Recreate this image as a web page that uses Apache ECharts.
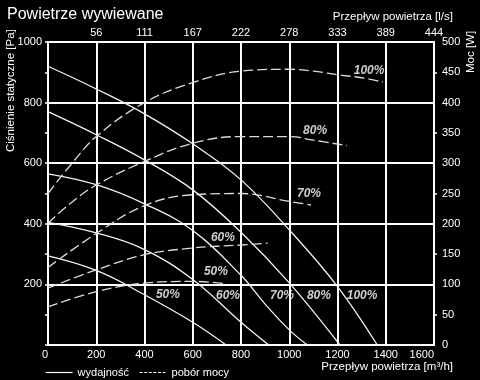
<!DOCTYPE html>
<html>
<head>
<meta charset="utf-8">
<script src="https://cdn.jsdelivr.net/npm/echarts@6/dist/echarts.min.js"></script>
<style>
html,body{margin:0;padding:0;background:#000;}
#chart{width:480px;height:380px;}
</style>
</head>
<body>
<div id="chart"></div>
<script>
// ---- data (flow m³/h, static pressure Pa) ----
const solid50  = [[0,294],[200,246],[400,166],[600,75],[738,0]];
const solid60  = [[0,405],[200,370],[400,315],[600,216],[800,75],[915,0]];
const solid70  = [[0,565],[200,529],[400,466],[600,378],[800,230],[900,135],[1000,50],[1075,0]];
const solid80  = [[0,770],[200,694],[400,611],[600,512],[800,372],[1000,205],[1210,0]];
const solid100 = [[0,920],[200,845],[400,763],[600,664],[800,545],[1000,380],[1200,193],[1365,0]];
// ---- data (flow m³/h, power W) ----
const power50  = [[0,63],[200,88],[400,102],[600,105],[738,101]];
const power60  = [[0,94],[200,124],[400,149],[600,160],[800,165],[910,168]];
const power70  = [[0,128],[200,184],[400,230],[600,248],[800,250],[1000,237],[1090,231]];
const power80  = [[0,201],[100,236],[200,264],[400,303],[600,333],[800,344],[1000,344],[1100,338],[1240,329]];
const power100 = [[0,250],[100,300],[200,344],[400,400],[600,433],[800,452],[1000,455],[1100,452],[1200,446],[1300,441],[1388,434]];
// ---- tick labels ----
const flowLsLabels = ['56','111','167','222','278','333','389','444'];
// ---- curve annotations ----
const labelTexts = ['50%','60%','70%','80%','100%','50%','60%','70%','80%','100%'];
const labelFlow  = [497,746,970,1123,1302,696,725,1082,1107,1331];
const labelPa    = [165,162,162,162,162,241,353,498,706,904];

const solidCurves = [solid50, solid60, solid70, solid80, solid100];
const powerCurves = [power50, power60, power70, power80, power100];

const FONT = '"Liberation Sans", Arial, sans-serif';
const chart = echarts.init(document.getElementById('chart'), null, {renderer:'canvas'});

const series = [];
solidCurves.forEach(d => series.push({
  name:'wydajność', type:'line', data:d, xAxisIndex:0, yAxisIndex:0,
  symbol:'none', smooth:0.4,
  lineStyle:{color:'#f2f2f2', width:1.3}, itemStyle:{color:'#f2f2f2'}
}));
powerCurves.forEach(d => series.push({
  name:'pobór mocy', type:'line', data:d, xAxisIndex:0, yAxisIndex:1,
  symbol:'none', smooth:0.4,
  lineStyle:{color:'#dcdcdc', width:1.3, type:[10,4]}, itemStyle:{color:'#dcdcdc'}
}));
series.push({
  type:'scatter', xAxisIndex:0, yAxisIndex:0, symbolSize:0, silent:true,
  data: labelTexts.map((t,i)=>({name:t, value:[labelFlow[i], labelPa[i]]})),
  label:{show:true, position:'inside', formatter:p=>p.name, color:'#fff',
    fontSize:12, fontWeight:'bold', fontStyle:'italic', fontFamily:FONT}
});

const axisFont = {color:'#fff', fontSize:11, fontFamily:FONT};
const plain = v => String(v);

chart.setOption({
  animation:false,
  backgroundColor:'#000',
  textStyle:{fontFamily:FONT},
  title:{text:'Powietrze wywiewane', left:2, top:2,
    textStyle:{color:'#fff', fontSize:16, fontWeight:'normal', fontFamily:FONT}},
  grid:{left:48, right:46, top:42, bottom:35, show:true, borderColor:'#fff', borderWidth:2},
  legend:{left:45, top:367, padding:0, itemWidth:27, itemHeight:10, itemGap:10,
    itemStyle:{opacity:0},
    textStyle:{color:'#fff', fontSize:11, fontFamily:FONT},
    data:[{name:'wydajność', lineStyle:{color:'#fff', width:1.2}},
          {name:'pobór mocy', lineStyle:{color:'#fff', width:1.2, type:[3,1.6]}}]},
  xAxis:[
    {type:'value', min:0, max:1600, interval:200, position:'bottom',
     axisLine:{show:true, lineStyle:{color:'#fff', width:2}},
     axisTick:{show:false},
     axisLabel:Object.assign({margin:4, formatter:plain, alignMinLabel:'right', alignMaxLabel:'right'}, axisFont),
     splitLine:{show:true, lineStyle:{color:'#fff', width:2}}},
    {type:'value', min:0, max:1600, interval:200, position:'top',
     axisLine:{show:true, lineStyle:{color:'#fff', width:2}},
     axisTick:{show:false},
     axisLabel:Object.assign({margin:4, showMinLabel:false,
       formatter:v => v === 0 ? '' : flowLsLabels[Math.round(v/200)-1]}, axisFont),
     splitLine:{show:false}}
  ],
  yAxis:[
    {type:'value', min:0, max:1000, interval:200, position:'left',
     axisLine:{show:true, lineStyle:{color:'#fff', width:2}},
     axisTick:{show:false},
     axisLabel:Object.assign({margin:6, showMinLabel:false, formatter:plain}, axisFont),
     splitLine:{show:true, lineStyle:{color:'#fff', width:2}}},
    {type:'value', min:0, max:500, interval:50, position:'right',
     axisLine:{show:true, lineStyle:{color:'#fff', width:2}},
     axisTick:{show:true, inside:true, length:3, lineStyle:{color:'#fff', width:1.5}},
     axisLabel:Object.assign({margin:8, formatter:plain}, axisFont),
     splitLine:{show:false}},
    {type:'value', min:0, max:500, interval:100, position:'right', offset:0,
     axisLine:{show:false},
     axisTick:{show:false, inside:false},
     minorTick:{show:true, splitNumber:2, length:3, lineStyle:{color:'#fff', width:1.5}},
     axisLabel:{show:false},
     splitLine:{show:false}}
  ],
  graphic:[
    {type:'text', x:11, y:152, rotation:Math.PI/2,
     style:{text:'Ciśnienie statyczne [Pa]', fill:'#fff', font:'11.5px '+FONT, textAlign:'left', textVerticalAlign:'middle'}},
    {type:'text', x:471, y:73, rotation:Math.PI/2,
     style:{text:'Moc [W]', fill:'#fff', font:'11.5px '+FONT, textAlign:'left', textVerticalAlign:'middle'}},
    {type:'text', x:453, y:17,
     style:{text:'Przepływ powietrza [l/s]', fill:'#fff', font:'11.5px '+FONT, textAlign:'right', textVerticalAlign:'middle'}},
    {type:'text', x:453, y:367,
     style:{text:'Przepływ powietrza [m³/h]', fill:'#fff', font:'11.5px '+FONT, textAlign:'right', textVerticalAlign:'middle'}}
  ],
  series:series
});
</script>
</body>
</html>
